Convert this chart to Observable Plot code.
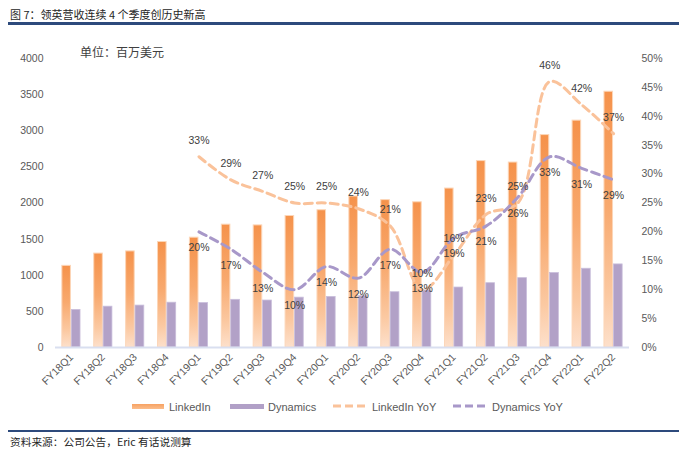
<!DOCTYPE html>
<html>
<head>
<meta charset="utf-8">
<script src="https://cdn.jsdelivr.net/npm/d3@7"></script>
<script src="https://cdn.jsdelivr.net/npm/@observablehq/plot@0.6"></script>
<style>
  body { margin: 0; background: #fff; }
  #wrap { position: relative; width: 687px; height: 461px; overflow: hidden; background: #fff;
          font-family: "Liberation Sans", "Noto Sans CJK SC", sans-serif; }
  #chart { position: absolute; left: 0; top: 0; }
  .abs { position: absolute; white-space: nowrap; }
  #title { left: 10px; top: 6px; font-size: 11px; line-height: 16px; color: #262626; font-family: "Noto Sans CJK SC", sans-serif; }
  #source { left: 10px; top: 434px; font-size: 10.7px; line-height: 16px; color: #262626; font-family: "Noto Sans CJK SC", sans-serif; }
  #unit { left: 80px; top: 44px; font-size: 12px; line-height: 16px; color: #404040; font-family: "Noto Sans CJK SC", sans-serif; }
  .rule { position: absolute; left: 8px; width: 671px; height: 2.5px; background: #2d4a7c; }
  .lg { position: absolute; font-size: 11px; line-height: 14px; top: 400px; color: #595959; }
  .sw { position: absolute; top: 404px; height: 5px; }
  .dl { position: absolute; top: 402px; }
</style>
</head>
<body>
<div id="wrap">
  <div id="chart"></div>
  <div id="title" class="abs">图 7：领英营收连续 4 个季度创历史新高</div>
  <div class="rule" style="top:22px"></div>
  <div id="unit" class="abs">单位：百万美元</div>

  <div class="sw" style="left:132px;width:32px;background:linear-gradient(#f7a262,#fbbd8c);"></div>
  <div class="lg" style="left:169px">LinkedIn</div>
  <div class="sw" style="left:230px;width:34px;background:#b1a0c7;"></div>
  <div class="lg" style="left:268px">Dynamics</div>
  <svg class="dl" style="left:333px" width="33" height="8"><line x1="0" y1="4" x2="33" y2="4" stroke="#fac29a" stroke-width="3" stroke-dasharray="8,4"/></svg>
  <div class="lg" style="left:372px">LinkedIn YoY</div>
  <svg class="dl" style="left:453px" width="33" height="8"><line x1="0" y1="4" x2="33" y2="4" stroke="#a898c9" stroke-width="3" stroke-dasharray="8,4"/></svg>
  <div class="lg" style="left:492px">Dynamics YoY</div>

  <div class="rule" style="top:430px;height:2px"></div>
  <div id="source" class="abs">资料来源：公司公告，Eric 有话说测算</div>
</div>
<script>
const quarters = ["FY18Q1","FY18Q2","FY18Q3","FY18Q4","FY19Q1","FY19Q2","FY19Q3","FY19Q4",
                  "FY20Q1","FY20Q2","FY20Q3","FY20Q4","FY21Q1","FY21Q2","FY21Q3","FY21Q4","FY22Q1","FY22Q2"];
const linkedin = [1130,1300,1330,1460,1520,1700,1690,1820,1900,2090,2040,2010,2200,2580,2560,2940,3140,3540];
const dynamics = [520,565,580,620,615,660,650,690,700,710,765,790,830,890,960,1030,1090,1150];
const yoyQuarters = ["FY19Q1","FY19Q2","FY19Q3","FY19Q4","FY20Q1","FY20Q2","FY20Q3","FY20Q4",
                     "FY21Q1","FY21Q2","FY21Q3","FY21Q4","FY22Q1","FY22Q2"];
const linkedinYoY = [33,29,27,25,25,24,21,10,16,23,25,46,42,37];
const dynamicsYoY = [20,17,13,10,14,12,17,13,19,21,26,33,31,29];
const leftTicks = [0,500,1000,1500,2000,2500,3000,3500,4000];
const rightTicks = [0,5,10,15,20,25,30,35,40,45,50];

const ratio = 4000 / 50; // right axis (%) mapped onto left axis units
const bars = quarters.map((q, i) => ({q, linkedin: linkedin[i], dynamics: dynamics[i]}));
const yoy = yoyQuarters.map((q, i) => ({q, li: linkedinYoY[i], dy: dynamicsYoY[i]}));

const defs = () => d3.create("svg:defs").html(`
  <linearGradient id="gLi" x1="0" y1="0" x2="0" y2="1">
    <stop offset="0" stop-color="#f5924b"/>
    <stop offset="0.45" stop-color="#f8a96e"/>
    <stop offset="0.8" stop-color="#fbc9a2"/>
    <stop offset="1" stop-color="#fde0cb"/>
  </linearGradient>`).node();

const chart = Plot.plot({
  width: 687,
  height: 461,
  marginTop: 58,
  marginBottom: 114,
  marginLeft: 55,
  marginRight: 58,
  style: {fontFamily: "'Liberation Sans', 'Noto Sans CJK SC', sans-serif", fontSize: "10.5px", color: "#595959", background: "transparent"},
  x: {domain: quarters, paddingInner: 0.43, paddingOuter: 0.215, round: false, label: null},
  y: {domain: [0, 4000], label: null},
  marks: [
    defs,
    Plot.barY(bars, {x: "q", y: "linkedin", fill: "url(#gLi)", stroke: "#fcd6b8", strokeWidth: 1, insetRight: 9.6}),
    Plot.barY(bars, {x: "q", y: "dynamics", fill: "#b2a1c7", stroke: "#c9bedb", strokeWidth: 0.8, insetLeft: 9.4}),
    Plot.ruleY([0], {stroke: "#d9dff0", strokeWidth: 2}),
    Plot.axisX({tickRotate: -45, tickSize: 0, tickPadding: 8, fontSize: 10.5, label: null}),
    Plot.axisY({anchor: "left", ticks: leftTicks, tickFormat: d3.format("d"), tickSize: 0, tickPadding: 12, label: null}),
    Plot.axisY({anchor: "right", ticks: rightTicks.map(p => p * ratio), tickFormat: d => Math.round(d / ratio) + "%", tickSize: 0, tickPadding: 12, label: null}),
    Plot.line(yoy, {x: "q", y: d => d.li * ratio, curve: "catmull-rom", stroke: "#fac29a", strokeWidth: 3, strokeDasharray: "8,5"}),
    Plot.line(yoy, {x: "q", y: d => d.dy * ratio, curve: "catmull-rom", stroke: "#a898c9", strokeWidth: 3, strokeDasharray: "8,5"}),
    Plot.text(yoy, {x: "q", y: d => d.li * ratio, text: d => d.li + "%", dy: -16, fill: "#404040", fontSize: 10.5}),
    Plot.text(yoy, {x: "q", y: d => d.dy * ratio, text: d => d.dy + "%", dy: 16, fill: "#404040", fontSize: 10.5})
  ]
});
document.getElementById("chart").appendChild(chart);
</script>
</body>
</html>
